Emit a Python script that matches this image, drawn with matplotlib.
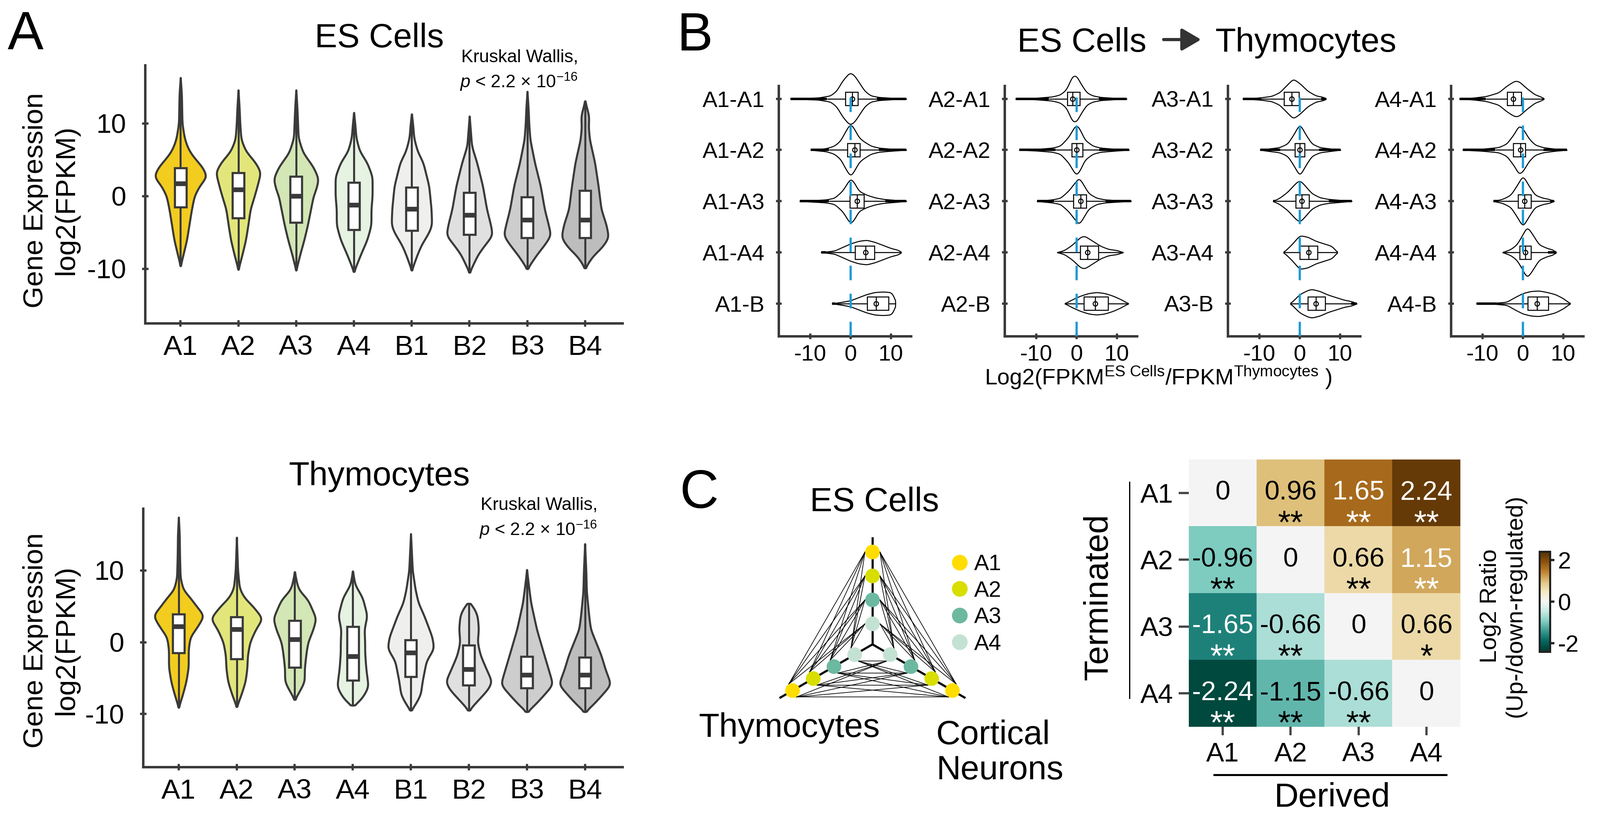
import numpy as np
import matplotlib
matplotlib.use("Agg")
import matplotlib.pyplot as plt
from matplotlib.patches import Rectangle, FancyArrowPatch
from matplotlib.lines import Line2D

plt.rcParams['font.family'] = ['Liberation Sans', 'DejaVu Sans']
plt.rcParams['mathtext.fontset'] = 'custom'
plt.rcParams['mathtext.rm'] = 'Liberation Sans'
plt.rcParams['mathtext.it'] = 'Liberation Sans:italic'
plt.rcParams['axes.unicode_minus'] = False

# ---------------- data: panel A (violins of log2 FPKM) ----------------
a_groups = ['A1', 'A2', 'A3', 'A4', 'B1', 'B2', 'B3', 'B4']
a_colors = ['#F2CC1F', '#E2E67A', '#D3E6B5', '#E6F2E2', '#EFEFED', '#E0E0E0', '#CDCDCD', '#BDBDBD']

# (values along y, half widths)
es_profiles = {
    'A1': ([-9.6, -8, -6, -4, -2, 0, 1.4, 2.7, 4, 5, 6, 7, 8, 10, 12, 14, 16.3],
           [0, .05, .11, .15, .19, .24, .33, .46, .38, .27, .17, .11, .07, .03, .025, .02, 0]),
    'A2': ([-10.1, -8, -6, -4, -1.8, 0, 1.4, 3.3, 4.6, 6.2, 7.8, 10, 12, 14.6],
           [0, .07, .13, .17, .21, .28, .33, .39, .30, .13, .05, .03, .02, 0]),
    'A3': ([-10.2, -8, -6, -4, -2, 0, 1, 2.4, 4, 6, 8, 10, 12, 14.6],
           [0, .07, .14, .20, .25, .30, .35, .39, .30, .12, .04, .03, .02, 0]),
    'A4': ([-10.4, -8, -6, -4, -1.8, 0, 2.7, 4.6, 6.2, 8, 10, 11.5],
           [0, .12, .23, .30, .30, .32, .32, .23, .10, .04, .02, 0]),
    'B1': ([-10.2, -8, -6.7, -5, -4, -1.8, 1.4, 4.6, 6.2, 8, 10, 11.3],
           [0, .10, .17, .30, .35, .34, .30, .20, .10, .04, .02, 0]),
    'B2': ([-10.5, -8, -6.7, -5.4, -4, -1.8, 1.4, 4.6, 6.9, 9, 11.0],
           [0, .15, .27, .40, .37, .30, .23, .13, .04, .02, 0]),
    'B3': ([-10, -8, -6.7, -5.4, -4, -1.8, 1.4, 4.6, 7.8, 10, 12, 14.4],
           [0, .17, .30, .41, .37, .30, .23, .13, .05, .03, .02, 0]),
    'B4': ([-9.9, -8.3, -7, -5.7, -4, -1.8, 1.4, 4.6, 7.8, 9.5, 11, 13.1],
           [0, .13, .30, .41, .37, .28, .23, .17, .08, .06, .07, 0]),
}
es_boxes = {'A1': (-1.5, 1.7, 3.9), 'A2': (-3.0, 0.9, 3.2), 'A3': (-3.6, 0.0, 2.7), 'A4': (-4.6, -1.2, 1.9),
            'B1': (-4.7, -1.8, 1.2), 'B2': (-5.3, -2.6, 0.5), 'B3': (-5.7, -3.3, -0.1), 'B4': (-5.7, -3.3, 0.8)}

thy_profiles = {
    'A1': ([-9.1, -7.3, -5.5, -3.5, -1, 0.7, 2.2, 3.7, 5.1, 6.2, 7.3, 9, 12, 15, 17.4],
           [0, .07, .13, .17, .17, .20, .33, .44, .30, .20, .08, .03, .02, .015, 0]),
    'A2': ([-9.0, -7.3, -5.5, -3.7, -1.8, 0, 1.8, 3.3, 5.1, 6.2, 7.5, 10, 14.6],
           [0, .08, .15, .18, .19, .23, .33, .45, .27, .13, .05, .02, 0]),
    'A3': ([-8.0, -6.6, -5.5, -3.7, -1.5, 0, 1.8, 3.3, 5.9, 7.3, 8.5, 9.8],
           [0, .10, .17, .17, .20, .23, .32, .37, .23, .07, .03, 0]),
    'A4': ([-8.8, -8.4, -7.3, -6.2, -3.7, -1.5, 0, 1.8, 3.7, 6.2, 8, 9.9],
           [0, .10, .20, .27, .23, .21, .21, .20, .25, .17, .04, 0]),
    'B1': ([-9.5, -8.8, -7.3, -5.5, -2.6, -0.9, 0.7, 3.7, 5.5, 7.3, 10, 15.1],
           [0, .07, .17, .20, .27, .40, .37, .23, .13, .08, .03, 0]),
    'B2': ([-9.5, -8, -6.6, -5.5, -3.7, -1.8, 0, 1.8, 3.7, 5.1, 5.4],
           [0, .17, .33, .40, .30, .20, .15, .17, .15, .07, 0]),
    'B3': ([-9.7, -8.8, -7.3, -5.9, -3.7, -1.8, 1.8, 5.5, 8, 10.1],
           [0, .13, .30, .45, .37, .30, .17, .07, .03, 0]),
    'B4': ([-9.7, -8.8, -7.3, -5.9, -3.7, -1.8, 1.8, 3.7, 7, 10, 13.7],
           [0, .13, .30, .45, .35, .28, .10, .07, .03, .02, 0]),
}
thy_boxes = {'A1': (-1.5, 2.2, 3.9), 'A2': (-2.3, 1.8, 3.5), 'A3': (-3.5, 0.4, 3.0), 'A4': (-5.3, -2.0, 2.2),
             'B1': (-4.8, -1.5, 0.3), 'B2': (-6.0, -3.8, -0.4), 'B3': (-6.4, -4.6, -2.0), 'B4': (-6.4, -4.6, -2.1)}

# ---------------- data: panel B (log2 ES / thymocytes ratios) ----------------
b_groups = ['A1', 'A2', 'A3', 'A4']
b_rows = ['A1', 'A2', 'A3', 'A4', 'B']
# name -> (x values, half heights in row units, (q1, median, q3))
b_violins = {
    'A1-A1': ([-14.9, -10, -8, -5, -3.5, -2, -0.5, 0, 1, 2, 3.5, 5, 7, 10, 13.8],
              [0, .015, .02, .06, .15, .35, .49, .51, .45, .33, .15, .06, .03, .015, 0], (-1.3, 0.4, 1.8)),
    'A1-A2': ([-9.9, -6, -4, -2.5, -1, 0, 1, 2, 3, 5, 7, 10, 13.8],
              [0, .03, .08, .18, .40, .52, .40, .25, .18, .08, .04, .02, 0], (-0.8, 1.0, 2.3)),
    'A1-A3': ([-12.6, -8, -6, -4, -2, 0, 1, 2, 4, 6, 8, 11, 13.8],
              [0, .02, .03, .06, .20, .45, .35, .20, .12, .07, .04, .02, 0], (-0.2, 1.6, 3.3)),
    'A1-A4': ([-7.3, -4, -2, 0, 2, 4, 6, 8, 10, 12, 12.5],
              [0, .03, .10, .17, .22, .24, .20, .14, .08, .04, 0], (1.1, 3.7, 5.9)),
    'A1-B': ([-4.6, -2, 0, 2, 4, 6, 8, 10, 10.8, 11.1],
             [0, .03, .06, .12, .18, .22, .23, .22, .15, 0], (4.1, 6.3, 9.4)),
    'A2-A1': ([-15.1, -10, -6, -4, -2.5, -1, 0, 1, 2.5, 4, 6, 9, 12.4],
              [0, .015, .04, .08, .18, .45, .45, .30, .12, .06, .03, .015, 0], (-2.3, -1.0, 0.8)),
    'A2-A2': ([-14.2, -10, -6, -4, -2, -0.5, 0, 1, 2, 4, 6, 10, 13],
              [0, .015, .04, .08, .25, .45, .50, .38, .20, .08, .04, .015, 0], (-1.2, 0.0, 1.5)),
    'A2-A3': ([-9.8, -6, -4, -2, 0, 0.6, 1.5, 3, 5, 7, 10, 13.5],
              [0, .03, .06, .20, .40, .46, .35, .15, .06, .03, .015, 0], (-0.8, 1.0, 2.4)),
    'A2-A4': ([-4.8, -3, -1, 1, 2, 4, 6, 8, 10, 11.5],
              [0, .04, .15, .30, .32, .22, .12, .06, .04, 0], (0.9, 2.7, 5.4)),
    'A2-B': ([-2.9, -1, 1, 3, 5, 7, 9, 11, 12.8],
             [0, .08, .15, .20, .22, .20, .15, .08, 0], (1.8, 4.6, 7.8)),
    'A3-A1': ([-14.1, -10, -7, -5, -3, -1.6, 0, 2, 4, 6, 6.5],
              [0, .02, .05, .12, .28, .39, .30, .15, .06, .03, 0], (-3.9, -2.0, -0.2)),
    'A3-A2': ([-9.8, -8, -5, -3, -1.5, 0, 1.5, 3, 5, 8, 10.1],
              [0, .02, .05, .12, .30, .51, .30, .12, .05, .02, 0], (-1.2, 0.0, 1.2)),
    'A3-A3': ([-6.6, -5, -3, -1, 0, 1, 3, 5, 7, 10, 12.9],
              [0, .06, .18, .35, .41, .33, .15, .07, .04, .02, 0], (-1.0, 0.5, 2.3)),
    'A3-A4': ([-4, -2, 0, 2, 4, 6, 8, 9.3],
              [0, .15, .33, .30, .22, .17, .12, 0], (0.0, 2.2, 4.4)),
    'A3-B': ([-2.3, 0, 2, 3, 5, 7, 9, 11, 13, 14.1],
             [0, .18, .26, .28, .24, .17, .12, .07, .04, 0], (2.0, 4.0, 6.3)),
    'A4-A1': ([-15.7, -12, -9, -6, -4, -2, -1, 1, 3, 4.5, 5.2],
              [0, .02, .05, .12, .25, .35, .34, .20, .08, .04, 0], (-3.9, -2.4, -0.4)),
    'A4-A2': ([-14.9, -10, -6, -4, -2, -1, 0, 1.5, 3, 5, 8, 10.9],
              [0, .02, .05, .12, .33, .48, .42, .22, .10, .05, .02, 0], (-2.4, -0.6, 0.6)),
    'A4-A3': ([-7.3, -5, -3, -1.5, 0, 1.5, 3, 5, 6.5, 7.7],
              [0, .04, .12, .30, .50, .30, .12, .06, .04, 0], (-1.2, 0.4, 2.0)),
    'A4-A4': ([-5, -3, -1.5, 0, 1, 2, 4, 6, 7.5, 8.2],
              [0, .06, .15, .35, .50, .40, .15, .08, .05, 0], (-0.8, 0.6, 2.0)),
    'A4-B': ([-11.5, -7, -4, -2, 0, 2, 4, 6, 8, 10, 11.7],
             [0, .01, .03, .12, .20, .24, .25, .22, .18, .10, 0], (1.2, 3.5, 6.3)),
}

# ---------------- data: panel C ----------------
c_levels = ['A1', 'A2', 'A3', 'A4']
c_colors = ['#FFDD00', '#D8DE00', '#6CB8A0', '#C4E2D4']
c_arms = ['ES Cells', 'Thymocytes', 'Cortical\nNeurons']
c_arm_angles = [90, 210, 330]

derived = ['A1', 'A2', 'A3', 'A4']
terminated = ['A1', 'A2', 'A3', 'A4']
log2_ratio = np.array([[0, 0.96, 1.65, 2.24],
                       [-0.96, 0, 0.66, 1.15],
                       [-1.65, -0.66, 0, 0.66],
                       [-2.24, -1.15, -0.66, 0]])
signif = [['', '**', '**', '**'],
          ['**', '', '**', '**'],
          ['**', '**', '', '*'],
          ['**', '**', '**', '']]
white_text = [[0, 0, 1, 1],
              [0, 0, 0, 1],
              [1, 0, 0, 0],
              [1, 0, 0, 0]]

EDGE = '#3A3A3A'
W, H = 3966, 2016
fig = plt.figure(figsize=(W / 200, H / 200), dpi=200)


def fx(x):
    return x / W


def fy(y):
    return 1 - y / H


def box_px(x0, y0, x1, y1):
    return [fx(x0), fy(y1), (x1 - x0) / W, (y1 - y0) / H]


def smooth_profile(v, w, sigma, n=400):
    grid = np.linspace(v[0], v[-1], n)
    prof = np.interp(grid, v, w)
    step = grid[1] - grid[0]
    k = max(1, int(3 * sigma / step))
    kern = np.exp(-0.5 * (np.arange(-k, k + 1) * step / sigma) ** 2)
    kern /= kern.sum()
    sm = np.convolve(np.pad(prof, k, mode='edge'), kern, mode='valid')
    sm[0] = sm[-1] = 0
    return grid, sm


def violin_body(ax, pos, v, w, med, sigma, horizontal=False):
    grid, sm = smooth_profile(v, w, sigma)
    stats = dict(coords=grid, vals=sm, mean=med, median=med, min=v[0], max=v[-1])
    try:
        parts = ax.violin([stats], positions=[pos], widths=[2 * sm.max()], showextrema=False,
                          orientation='horizontal' if horizontal else 'vertical')
    except TypeError:
        parts = ax.violin([stats], positions=[pos], widths=[2 * sm.max()], showextrema=False,
                          vert=not horizontal)
    return parts['bodies'][0]


# ---------------- panel A ----------------
def panel_a(rect, profiles, boxes, ylim, title, title_y, kw_x, kw_y):
    ax = fig.add_axes(rect)
    for i, g in enumerate(a_groups):
        v, w = profiles[g]
        q1, med, q3 = boxes[g]
        body = violin_body(ax, i, v, w, med, sigma=0.45)
        body.set_facecolor(a_colors[i])
        body.set_edgecolor(EDGE)
        body.set_linewidth(1.8)
        body.set_alpha(1)
        ax.vlines(i, v[0], v[-1], color=EDGE, lw=1.8, zorder=2)
        ax.add_patch(Rectangle((i - 0.1, q1), 0.2, q3 - q1, facecolor='white',
                               edgecolor=EDGE, lw=1.9, zorder=3))
        ax.hlines(med, i - 0.1, i + 0.1, color=EDGE, lw=4.2, zorder=4)
    ax.set_xlim(-0.61, 7.65)
    ax.set_ylim(*ylim)
    for s in ['top', 'right']:
        ax.spines[s].set_visible(False)
    for s in ['left', 'bottom']:
        ax.spines[s].set_linewidth(2.2)
        ax.spines[s].set_color(EDGE)
    ax.set_xticks(range(len(a_groups)))
    ax.set_xticklabels(a_groups, fontsize=25)
    ax.set_yticks([-10, 0, 10])
    ax.set_yticklabels(['-10', '0', '10'], fontsize=24)
    ax.tick_params(direction='inout', length=6, width=2, color=EDGE)
    ax.tick_params(axis='y', pad=14)
    ax.tick_params(axis='x', pad=7)
    fig.text(fx(940), fy(title_y), title, ha='center', va='baseline', fontsize=30)
    fig.text(fx(kw_x), fy(kw_y), 'Kruskal Wallis,', ha='left', va='center', fontsize=16)
    fig.text(fx(kw_x - 4), fy(kw_y + 61), r'$p$ < 2.2 × 10$^{-16}$', ha='left', va='center', fontsize=16)
    return ax


panel_a(box_px(360, 162, 1543, 801), es_profiles, es_boxes, (-17.5, 18), 'ES Cells', 117, 1143, 142)
panel_a(box_px(355, 1260, 1543, 1900), thy_profiles, thy_boxes, (-17.4, 18.6), 'Thymocytes', 1202, 1191, 1251)
for yc in [496, 1586]:
    fig.text(fx(126), fy(yc), 'Gene Expression\nlog2(FPKM)', rotation=90, ha='center', va='center',
             multialignment='center', fontsize=25, linespacing=1.25)

# ---------------- panel B ----------------
b_left = [1930, 2490, 3043, 3596]
for gi, g in enumerate(b_groups):
    ax = fig.add_axes(box_px(b_left[gi], 213, b_left[gi] + 328, 833))
    for ri, r in enumerate(b_rows):
        name = g + '-' + r
        x, w, (q1, med, q3) = b_violins[name]
        body = violin_body(ax, ri, x, w, med, sigma=0.4, horizontal=True)
        body.set_facecolor('white')
        body.set_edgecolor('black')
        body.set_linewidth(0.9)
        body.set_alpha(1)
        body.set_clip_on(False)
        iqr = q3 - q1
        wlo = max(x[0], q1 - 1.5 * iqr)
        whi = min(x[-1], q3 + 1.5 * iqr)
        ax.hlines(ri, wlo, whi, color='black', lw=0.9, zorder=3)
        if x[0] < wlo:
            ax.hlines(ri, x[0], wlo, color='black', lw=2.2, zorder=3)
        if x[-1] > whi:
            ax.hlines(ri, whi, x[-1], color='black', lw=2.2, zorder=3)
        ax.add_patch(Rectangle((q1, ri - 0.13), q3 - q1, 0.26, facecolor='white',
                               edgecolor='black', lw=0.9, zorder=4))
        ax.vlines(med, ri - 0.13, ri + 0.13, color='black', lw=0.9, zorder=5)
        ax.plot([med], [ri], 'o', mfc='none', mec='black', ms=4, mew=0.9, zorder=5)
    ax.axvline(0, color='#1C9AD6', lw=2, ls=(0, (6.5, 6)), zorder=6)
    ax.set_xlim(-17.8, 15)
    ax.set_ylim(4.64, -0.25)
    for s in ['top', 'right']:
        ax.spines[s].set_visible(False)
    for s in ['left', 'bottom']:
        ax.spines[s].set_linewidth(2.2)
        ax.spines[s].set_color(EDGE)
    ax.set_yticks(range(len(b_rows)))
    ax.set_yticklabels([g + '-' + r for r in b_rows], fontsize=20)
    ax.set_xticks([-10, 0, 10])
    ax.set_xticklabels(['-10', '0', '10'], fontsize=20)
    ax.tick_params(direction='inout', length=5, width=2, color=EDGE)
    ax.tick_params(axis='y', pad=10)
    ax.tick_params(axis='x', pad=5)

fig.text(fx(2841), fy(128), 'ES Cells', ha='right', va='baseline', fontsize=30)
fig.add_artist(FancyArrowPatch((fx(2878), fy(98)), (fx(2982), fy(98)), transform=fig.transFigure,
                               arrowstyle='-|>,head_length=0.72,head_width=0.42', mutation_scale=20,
                               lw=2.8, color='#333333'))
fig.text(fx(3011), fy(128), 'Thymocytes', ha='left', va='baseline', fontsize=30)
fig.text(fx(2870), fy(935), r'Log2(FPKM$^{\mathrm{ES\ Cells}}$/FPKM$^{\mathrm{Thymocytes}}$ )',
         ha='center', va='center', fontsize=20)

# ---------------- panel C: triangle ----------------
tax = fig.add_axes(box_px(1850, 1290, 2480, 1760))
tax.set_xlim(-1.173, 1.195)
tax.set_ylim(-0.617, 1.150)
tax.axis('off')
node_outer, node_step, offset = 0.86, 0.223, 0.07
dirs = [np.array([np.cos(np.radians(a)), np.sin(np.radians(a))]) for a in c_arm_angles]
for d in dirs:
    tax.plot([0, d[0]], [0, d[1]], color='black', lw=1.9, solid_capstyle='butt', zorder=2)
for a in range(3):
    for b in range(a + 1, 3):
        pa = np.array([-dirs[a][1], dirs[a][0]])
        if np.dot(pa, dirs[b]) < 0:
            pa = -pa
        pb = np.array([-dirs[b][1], dirs[b][0]])
        if np.dot(pb, dirs[a]) < 0:
            pb = -pb
        for i in range(len(c_levels)):
            for j in range(len(c_levels)):
                p = (node_outer - node_step * i) * dirs[a] + offset * pa
                q = (node_outer - node_step * j) * dirs[b] + offset * pb
                tax.plot([p[0], q[0]], [p[1], q[1]], color='black', lw=0.6, zorder=1)
for d in dirs:
    for i, c in enumerate(c_colors):
        pt = (node_outer - node_step * i) * d
        tax.scatter([pt[0]], [pt[1]], s=170, color=c, edgecolors='none', zorder=3)
handles = [Line2D([], [], marker='o', ls='', color=c, markersize=13) for c in c_colors]
tax.legend(handles, c_levels, loc='upper left', bbox_to_anchor=(fx(2350), fy(1372)),
           bbox_transform=fig.transFigure, frameon=False, fontsize=20, handlelength=1.0,
           handletextpad=0.15, labelspacing=0.25, borderpad=0, borderaxespad=0)
fig.text(fx(2167), fy(1266), c_arms[0], ha='center', va='baseline', fontsize=30)
fig.text(fx(1956), fy(1825), c_arms[1], ha='center', va='baseline', fontsize=30)
fig.text(fx(2320), fy(1930), c_arms[2], ha='left', va='baseline', fontsize=30,
         multialignment='left', linespacing=1.15)

# ---------------- panel C: heatmap ----------------
hax = fig.add_axes(box_px(2946, 1138, 3619, 1800))
im = hax.imshow(log2_ratio, cmap='BrBG_r', vmin=-2.4, vmax=2.4, aspect='auto')
for i in range(4):
    for j in range(4):
        col = 'white' if white_text[i][j] else 'black'
        hax.text(j, i, f'{log2_ratio[i, j]:g}', ha='center', va='center', fontsize=24, color=col)
        if signif[i][j]:
            hax.text(j, i + 0.6, signif[i][j], ha='center', va='baseline', fontsize=29, color=col)
for s in hax.spines.values():
    s.set_visible(False)
hax.set_xticks(range(4))
hax.set_xticklabels(derived, fontsize=24)
hax.set_yticks(range(4))
hax.set_yticklabels(terminated, fontsize=24)
hax.tick_params(axis='y', length=9, width=2, color='#444444', pad=5)
hax.tick_params(axis='x', length=7.5, width=2, color='#444444', pad=6)
hax.plot([-1.375, -1.375], [-0.16, 3.07], color='black', lw=1.1, clip_on=False,
         scalex=False, scaley=False)
hax.plot([-0.125, 3.29], [4.22, 4.22], color='black', lw=1.8, clip_on=False,
         scalex=False, scaley=False)
hax.set_xlim(-0.5, 3.5)
hax.set_ylim(3.5, -0.5)
fig.text(fx(2722), fy(1479), 'Terminated', rotation=90, ha='center', va='center', fontsize=30)
fig.text(fx(3301), fy(1998), 'Derived', ha='center', va='baseline', fontsize=30)

cax = fig.add_axes(box_px(3815, 1366, 3841, 1614))
cb = fig.colorbar(im, cax=cax, ticks=[-2, 0, 2])
cb.ax.set_yticklabels(['-2', '0', '2'], fontsize=21)
cb.ax.tick_params(direction='out', length=4, width=2, color='#222222', pad=3)
cb.outline.set_linewidth(1.8)
cb.outline.set_edgecolor('#222222')
fig.text(fx(3724), fy(1501), 'Log2 Ratio\n(Up-/down-regulated)', rotation=90, ha='center', va='center',
         multialignment='center', fontsize=21, linespacing=1.2)

# ---------------- panel letters ----------------
fig.text(fx(19), fy(122), 'A', ha='left', va='baseline', fontsize=48)
fig.text(fx(1678), fy(125), 'B', ha='left', va='baseline', fontsize=48)
fig.text(fx(1684), fy(1258), 'C', ha='left', va='baseline', fontsize=48)

fig.savefig('out.png', dpi=200)
